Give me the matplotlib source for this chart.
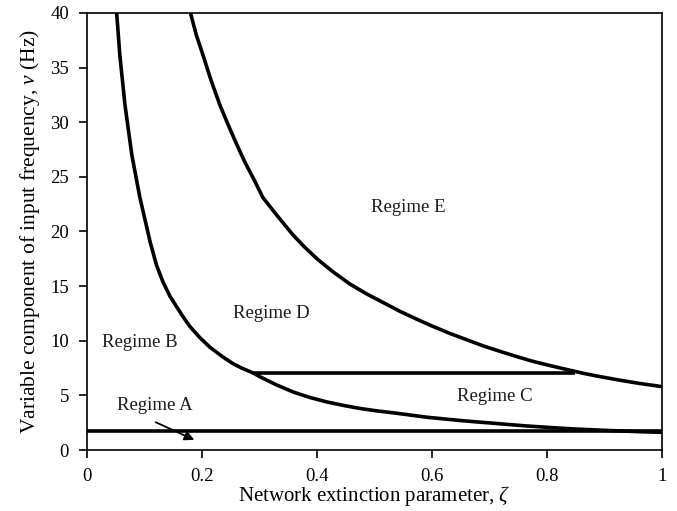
import matplotlib
matplotlib.use("Agg")
import matplotlib.pyplot as plt

# ---- data ----
# boundary B (left curve continuing into lower C/B curve)
curve_b_x = [0.0516, 0.057, 0.066, 0.078, 0.092, 0.110, 0.121, 0.132, 0.144, 0.156, 0.167, 0.179,
             0.196, 0.214, 0.234, 0.254, 0.271, 0.289,
             0.301, 0.330, 0.359, 0.388, 0.417, 0.446, 0.475, 0.504, 0.533, 0.562, 0.591, 0.620,
             0.649, 0.678, 0.707, 0.736, 0.765, 0.794, 0.823, 0.850, 0.880, 0.910, 0.940, 0.970, 1.000]
curve_b_y = [40.0, 36.2, 31.6, 27.0, 23.1, 19.0, 16.9, 15.4, 14.1, 13.1, 12.2, 11.3,
             10.3, 9.4, 8.6, 7.9, 7.45, 7.05,
             6.7, 5.95, 5.3, 4.8, 4.4, 4.08, 3.8, 3.58, 3.4, 3.2, 3.0, 2.85,
             2.7, 2.57, 2.45, 2.32, 2.2, 2.1, 2.0, 1.92, 1.85, 1.78, 1.72, 1.66, 1.62]
# boundary D/E (upper curve)
curve_e_x = [0.180, 0.190, 0.202, 0.216, 0.231, 0.246, 0.261, 0.275, 0.289, 0.306, 0.330, 0.344,
             0.358, 0.378, 0.400, 0.428, 0.457, 0.486, 0.515, 0.544, 0.574, 0.600, 0.631, 0.660,
             0.689, 0.720, 0.748, 0.775, 0.805, 0.835, 0.863, 0.890, 0.922, 0.960, 1.000]
curve_e_y = [40.0, 38.0, 36.1, 33.8, 31.6, 29.7, 27.9, 26.3, 24.9, 23.1, 21.5, 20.6,
             19.7, 18.6, 17.5, 16.3, 15.2, 14.3, 13.5, 12.7, 11.96, 11.35, 10.67, 10.1,
             9.53, 9.0, 8.54, 8.12, 7.73, 7.36, 7.02, 6.74, 6.43, 6.1, 5.8]
# horizontal boundaries
line_a_x = [0.0, 1.0]
line_a_y = [1.78, 1.78]
line_c_x = [0.287, 0.848]
line_c_y = [7.05, 7.05]

regime_labels = ["Regime A", "Regime B", "Regime C", "Regime D", "Regime E"]
regime_x = [0.118, 0.092, 0.710, 0.320, 0.558]
regime_y = [4.1, 9.8, 4.9, 12.5, 22.2]
arrow_start = (0.115, 2.65)
arrow_end = (0.191, 0.82)

x_ticks = [0, 0.2, 0.4, 0.6, 0.8, 1]
x_ticklabels = ["0", "0.2", "0.4", "0.6", "0.8", "1"]
y_ticks = [0, 5, 10, 15, 20, 25, 30, 35, 40]

# ---- style ----
plt.rcParams["font.family"] = ["Liberation Serif", "DejaVu Serif"]
plt.rcParams["mathtext.fontset"] = "custom"
plt.rcParams["mathtext.rm"] = "Liberation Serif"
plt.rcParams["mathtext.it"] = "Liberation Serif:italic"

fig = plt.figure(figsize=(6.77, 5.11), dpi=100)
ax = fig.add_axes([87 / 677, 61 / 511, 575 / 677, 437 / 511])

lw = 2.6
ax.plot(curve_b_x, curve_b_y, color="black", lw=lw, solid_joinstyle="round", solid_capstyle="butt")
ax.plot(curve_e_x, curve_e_y, color="black", lw=lw, solid_joinstyle="round", solid_capstyle="butt")
ax.plot(line_a_x, line_a_y, color="black", lw=lw, solid_capstyle="butt")
ax.plot(line_c_x, line_c_y, color="black", lw=lw, solid_capstyle="butt")

for lab, xx, yy in zip(regime_labels, regime_x, regime_y):
    ax.text(xx, yy, lab, ha="center", va="center", fontsize=13.5, color="#1a1a1a")

ax.annotate("", xy=arrow_end, xytext=arrow_start,
            arrowprops=dict(arrowstyle="-|>", color="black", lw=1.3, mutation_scale=14))

ax.set_xlim(0, 1)
ax.set_ylim(0, 40)
ax.set_xticks(x_ticks)
ax.set_xticklabels(x_ticklabels)
ax.set_yticks(y_ticks)
ax.tick_params(axis="both", direction="out", length=6, width=1.2, labelsize=13.5, pad=7, color="black")
for s in ax.spines.values():
    s.set_linewidth(1.2)
    s.set_color("black")

ax.set_xlabel(r"Network extinction parameter, $\zeta$", fontsize=15, labelpad=-1)
ax.set_ylabel(r"Variable component of input frequency, $\nu$ (Hz)", fontsize=15.5, labelpad=6)

fig.savefig("out.png", dpi=100, facecolor="white")
